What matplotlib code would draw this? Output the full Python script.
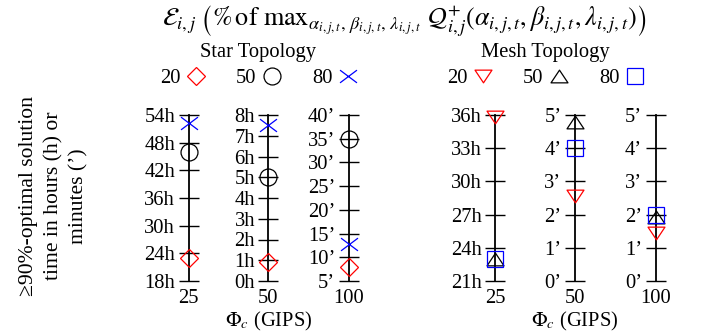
import matplotlib
matplotlib.use('Agg')
import matplotlib.pyplot as plt
from matplotlib.path import Path

plt.rcParams['font.family'] = ['Liberation Serif', 'DejaVu Serif']
plt.rcParams['mathtext.fontset'] = 'stix'

# x categories (Phi_c, GIPS)
phi_labels = ['25', '50', '100']

# Star topology, one value per Phi_c column
star_20 = [23.0, 0.93, 8.0]
star_50 = [46.0, 5.0, 35.0]
star_80 = [52.2, 7.5, 12.8]
star_ticks = [[18, 24, 30, 36, 42, 48, 54],
              [0, 1, 2, 3, 4, 5, 6, 7, 8],
              [5, 10, 15, 20, 25, 30, 35, 40]]
star_units = ['h', 'h', '\u2019']

# Mesh topology
mesh_20 = [35.8, 2.55, 1.45]
mesh_50 = [23.0, 4.8, 1.93]
mesh_80 = [23.0, 4.0, 1.98]
mesh_ticks = [[21, 24, 27, 30, 33, 36],
              [0, 1, 2, 3, 4, 5],
              [0, 1, 2, 3, 4, 5]]
mesh_units = ['h', '\u2019', '\u2019']

W, H = 712, 335
FS = 14.8

# custom markers (a bit wider than tall, as in the original)
x_wide = Path([(-1, -0.75), (1, 0.75), (-1, 0.75), (1, -0.75)],
              [Path.MOVETO, Path.LINETO, Path.MOVETO, Path.LINETO])
tri_down = Path([(-1, 0.75), (1, 0.75), (0, -0.75), (-1, 0.75)],
                [Path.MOVETO, Path.LINETO, Path.LINETO, Path.CLOSEPOLY])
tri_up = Path([(-1, -0.75), (1, -0.75), (0, 0.75), (-1, -0.75)],
              [Path.MOVETO, Path.LINETO, Path.LINETO, Path.CLOSEPOLY])

star_style = [('20', star_20, dict(marker='D', ms=8.7, color='red')),
              ('50', star_50, dict(marker='o', ms=12.2, color='black')),
              ('80', star_80, dict(marker=x_wide, ms=12.2, color='blue'))]
mesh_style = [('20', mesh_20, dict(marker=tri_down, ms=12.2, color='red')),
              ('50', mesh_50, dict(marker=tri_up, ms=12.2, color='black')),
              ('80', mesh_80, dict(marker='s', ms=12.2, color='blue'))]

fig = plt.figure(figsize=(7.12, 3.35), dpi=100)


def make_group(xcenters, series, ticks, units):
    axes = []
    handles = []
    for i, xc in enumerate(xcenters):
        ax = fig.add_axes([(xc - 20) / W, 1 - 281 / H, 40 / W, 166 / H])
        ax.set_xlim(-1, 1)
        ax.set_ylim(ticks[i][0], ticks[i][-1])
        for s in ['top', 'right', 'bottom']:
            ax.spines[s].set_visible(False)
        ax.spines['left'].set_position(('axes', 0.5))
        ax.spines['left'].set_linewidth(1.3)
        ax.patch.set_visible(False)
        ax.set_yticks(ticks[i])
        ax.set_yticklabels([f'{t}{units[i]}' for t in ticks[i]])
        ax.tick_params(axis='y', direction='inout', length=14.4, width=1.0,
                       pad=2.5, labelsize=FS)
        ax.set_xticks([0])
        ax.set_xticklabels([phi_labels[i]])
        ax.tick_params(axis='x', length=0, pad=6, labelsize=FS)
        hs = []
        for lab, vals, st in series:
            ln, = ax.plot([0], [vals[i]], linestyle='none', marker=st['marker'],
                          ms=st['ms'], mfc='none', mec=st['color'], mew=0.9,
                          clip_on=False, label=lab, zorder=5)
            hs.append(ln)
        handles = hs
        axes.append(ax)
    axes[1].set_xlabel(r'$\Phi_c$ (GIPS)', fontsize=FS, labelpad=1.5)
    return axes, handles


star_axes, star_h = make_group([188.5, 268.5, 348.7], star_style, star_ticks, star_units)
mesh_axes, mesh_h = make_group([495, 575, 655.5], mesh_style, mesh_ticks, mesh_units)

for hs, xc in [(star_h, 259), (mesh_h, 546)]:
    fig.legend(hs, [h.get_label() for h in hs], ncol=3, markerfirst=False,
               frameon=False, loc='center', bbox_to_anchor=(xc / W, 1 - 78 / H),
               fontsize=FS, handlelength=1.0, handletextpad=0.25,
               columnspacing=1.45, borderpad=0, borderaxespad=0)

fig.text(258 / W, 1 - 53 / H, 'Star Topology', ha='center', va='center', fontsize=FS)
fig.text(545 / W, 1 - 53 / H, 'Mesh Topology', ha='center', va='center', fontsize=FS)

title = (r'$\mathcal{E}_{i,j}\;\left(\%\,\mathrm{of}\ \mathrm{max}_{\alpha_{i,j,t},\,'
         r'\beta_{i,j,t},\,\lambda_{i,j,t}}\ \mathcal{Q}^{+}_{i,j}(\alpha_{i,j,t},'
         r'\beta_{i,j,t},\lambda_{i,j,t})\right)$')
fig.text(404 / W, 1 - 21 / H, title, ha='center', va='center', fontsize=18.8)

fig.text(54 / W, 1 - 196 / H,
         '\u226590%-optimal solution\ntime in hours (h) or\nminutes (\u2019)',
         rotation=90, ha='center', va='center', multialignment='center',
         fontsize=15.6, linespacing=1.42)

fig.savefig('out.png', dpi=100)
